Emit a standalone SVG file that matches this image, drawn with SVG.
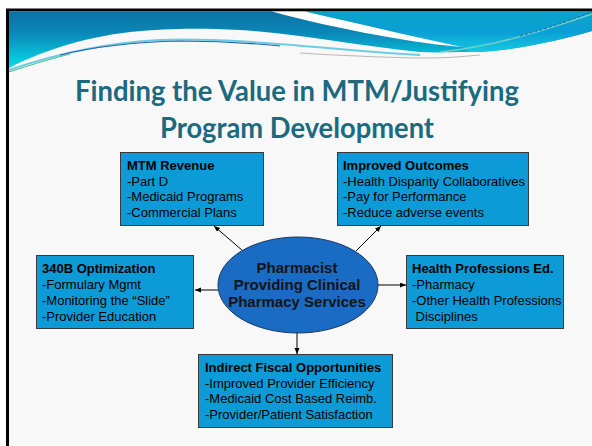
<svg xmlns="http://www.w3.org/2000/svg" width="592" height="446" viewBox="0 0 592 446">
  <defs>
    <style>
      .box { fill: #0c9bd6; stroke: #3a3a3a; stroke-width: 1; }
      .bt { font-family: "Liberation Sans", Arial, sans-serif; font-size: 13px; fill: #000; }
      .bh { font-weight: bold; }
      .ct { font-family: "Liberation Sans", Arial, sans-serif; font-size: 15px; font-weight: bold; fill: #141414; text-anchor: middle; }
      .title { font-family: "Lato", "Open Sans", sans-serif; font-size: 28px; font-weight: bold; fill: #1b6a80; text-anchor: middle; }
      .conn { stroke: #000; stroke-width: 1; fill: none; marker-end: url(#arr); }
    </style>
    <marker id="arr" markerUnits="userSpaceOnUse" markerWidth="7" markerHeight="6" refX="6" refY="2.5" orient="auto">
      <path d="M0,0 L6,2.5 L0,5 Z" fill="#000"/>
    </marker>
    <linearGradient id="gMain" gradientUnits="userSpaceOnUse" x1="0" y1="11" x2="0" y2="66">
      <stop offset="0" stop-color="#0a71a3"/>
      <stop offset="0.4" stop-color="#0a88b8"/>
      <stop offset="1" stop-color="#06d8e8"/>
    </linearGradient>
    <linearGradient id="gRight" gradientUnits="userSpaceOnUse" x1="0" y1="11" x2="0" y2="52">
      <stop offset="0" stop-color="#0aa3c6"/>
      <stop offset="0.5" stop-color="#0a9fd6"/>
      <stop offset="1" stop-color="#16c8e2"/>
    </linearGradient>
  </defs>

  <!-- page and slide frame -->
  <rect x="0" y="0" width="592" height="446" fill="#ffffff"/>
  <rect x="7.5" y="10" width="600" height="460" fill="#f8f8f8" stroke="#000" stroke-width="3"/>

  <!-- header wave -->
  <g id="header">
    <path d="M9,11.5 L592,11.5 L592,31 C560,40 510,52 470,52 C450,52 435,53 420,52 C360,46 300,34 240,30 C200,28 170,28 130,32 C80,38 40,52 9,68 Z" fill="url(#gMain)"/>
    <path d="M305,11.5 L592,11.5 L592,31 C560,40 510,52 470,52 L462,47 C410,36 360,24 305,11.5 Z" fill="url(#gRight)"/>
    <path d="M272,11.5 L305,11.5 C360,24 410,36 462,47 C420,44 340,30 272,11.5 Z" fill="#ffffff"/>
    <path d="M9,70 C50,56 100,43 160,40 C240,37 330,50 420,55" fill="none" stroke="#6ccde2" stroke-width="2"/>
    <path d="M60,55 C100,45 140,42 180,41 C220,41 250,43 280,46" fill="none" stroke="#2a62b2" stroke-width="1.2"/>
    <path d="M9,72 C30,65 50,59 70,54" fill="none" stroke="#40c090" stroke-width="1"/>
    <path d="M300,53 C350,56 390,58 430,58 C450,58 470,56 480,55" fill="none" stroke="#b8b8b8" stroke-width="1.2"/>
    <path d="M440,52 C490,47 540,32 592,14" fill="none" stroke="#74d2c4" stroke-width="1.5"/>
    <path d="M520,36 C550,28 570,20 592,12" fill="none" stroke="#2a60b8" stroke-width="1" stroke-dasharray="3 2"/>
  </g>

  <!-- title -->
  <g id="title">
    <text class="title" x="297" y="101" textLength="444" lengthAdjust="spacingAndGlyphs">Finding the Value in MTM/Justifying</text>
    <text class="title" x="297" y="138" textLength="274" lengthAdjust="spacingAndGlyphs">Program Development</text>
  </g>

  <!-- connectors -->
  <g id="connectors">
    <line class="conn" x1="243" y1="251" x2="214" y2="226"/>
    <line class="conn" x1="356" y1="251" x2="381" y2="226"/>
    <line class="conn" x1="218" y1="290" x2="195" y2="290"/>
    <line class="conn" x1="378" y1="285" x2="406" y2="285"/>
    <line class="conn" x1="297" y1="333" x2="297" y2="354"/>
  </g>

  <!-- center node -->
  <g id="center">
    <ellipse cx="298" cy="285" rx="80" ry="48" fill="#1a6bc3" stroke="#17365d" stroke-width="1"/>
    <text class="ct" x="297" y="273">Pharmacist</text>
    <text class="ct" x="297" y="290">Providing Clinical</text>
    <text class="ct" x="297" y="307">Pharmacy Services</text>
  </g>

  <g id="mtm">
    <rect class="box" x="120.5" y="152.5" width="143" height="73"/>
    <text class="bt bh" x="127" y="170">MTM Revenue</text>
    <text class="bt" x="127" y="185.5">-Part D</text>
    <text class="bt" x="127" y="201">-Medicaid Programs</text>
    <text class="bt" x="127" y="216.5">-Commercial Plans</text>
  </g>

  <g id="outcomes">
    <rect class="box" x="337.5" y="152.5" width="191" height="73"/>
    <text class="bt bh" x="343" y="170">Improved Outcomes</text>
    <text class="bt" x="343" y="185.5">-Health Disparity Collaboratives</text>
    <text class="bt" x="343" y="201">-Pay for Performance</text>
    <text class="bt" x="343" y="216.5">-Reduce adverse events</text>
  </g>

  <g id="b340">
    <rect class="box" x="36.5" y="255.5" width="157" height="73"/>
    <text class="bt bh" x="42" y="273">340B Optimization</text>
    <text class="bt" x="42" y="289">-Formulary Mgmt</text>
    <text class="bt" x="42" y="305">-Monitoring the “Slide”</text>
    <text class="bt" x="42" y="321">-Provider Education</text>
  </g>

  <g id="healthed">
    <rect class="box" x="406.5" y="255.5" width="157" height="73"/>
    <text class="bt bh" x="412" y="273">Health Professions Ed.</text>
    <text class="bt" x="412" y="289">-Pharmacy</text>
    <text class="bt" x="412" y="305">-Other Health Professions</text>
    <text class="bt" x="415.6" y="321">Disciplines</text>
  </g>

  <g id="fiscal">
    <rect class="box" x="198.5" y="354.5" width="194" height="73"/>
    <text class="bt bh" x="205" y="372">Indirect Fiscal Opportunities</text>
    <text class="bt" x="205" y="387.5">-Improved Provider Efficiency</text>
    <text class="bt" x="205" y="403">-Medicaid Cost Based Reimb.</text>
    <text class="bt" x="205" y="418.5">-Provider/Patient Satisfaction</text>
  </g>
</svg>
